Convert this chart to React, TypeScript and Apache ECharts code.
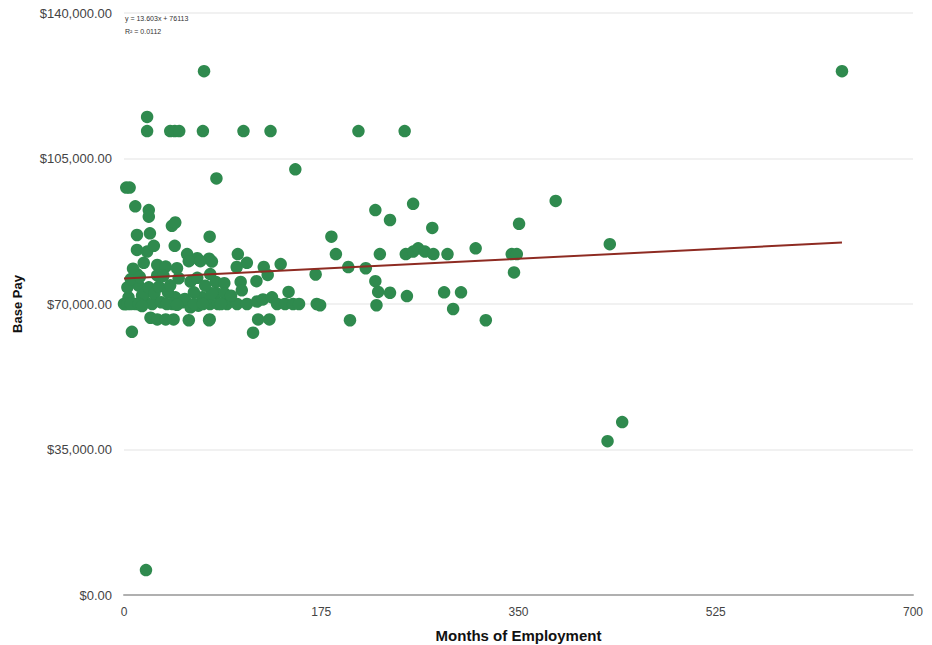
import React, { useEffect, useRef } from "react";
import * as echarts from "echarts";

// Months of employment and base pay for each employee
const months = [
  71, 637, 20.5, 20.5, 41, 45, 49, 70, 106, 130, 208, 249,
  152, 82, 2, 5, 383, 10, 22, 22, 42.5, 45.5, 11.5, 23, 76,
  11.5, 20.5, 26.5, 45, 56, 65, 75.5, 101, 109, 100, 124, 139, 127.5,
  76.5, 170, 117.5, 81.5, 89, 103.5, 104.5, 146, 82, 89,
  76.3, 83.4, 91.4, 100.3, 109.1, 118, 123.3, 131.3, 135.8, 142.9, 150, 155.3,
  171, 76, 119, 129, 114.5,
  17.5, 29.5, 37, 47, 57.5, 67.7, 78,
  11.5, 13, 59, 48.5, 29.5,
  1, 10, 19, 25, 4, 19,
  45.5, 51.5, 59, 69.5, 78, 66,
  23.5, 29.5, 37, 44, 57.5, 75.5, 7,
  3, 6, 8, 14, 16, 22, 27, 31, 35, 39, 33, 41, 43, 54, 62, 65, 72, 86, 95,
  0, 3, 6, 13, 16, 38, 47, 62, 70,
  184, 188, 223, 236, 256.5, 273.5, 227, 250, 256.5, 261, 267, 274.5, 287, 312,
  344, 348.5, 350.5, 346, 199, 214.5, 223, 225.5, 236, 251, 284, 299,
  174, 224, 292, 200.5, 321, 431, 442, 429, 19.5,
];
const basePay = [
  126000, 126000, 115000, 111600, 111600, 111600, 111600, 111600, 111600, 111600, 111600, 111600,
  102400, 100200, 98000, 98000, 94800, 93500, 92600, 91000, 88800, 89600, 86600, 87000, 86200,
  83000, 82600, 84000, 84000, 82000, 81000, 80900, 82000, 79900, 78900, 78900, 79600, 77000,
  77200, 77100, 75500, 75300, 75000, 75300, 73300, 72900, 72600, 72600,
  70000, 70000, 70000, 70000, 70000, 70600, 71100, 71600, 70000, 70000, 70000, 70000,
  70000, 66300, 66300, 66300, 63100,
  79900, 79400, 79000, 78600, 80300, 80300, 80200,
  77200, 74400, 75400, 76200, 76900,
  70000, 70000, 70400, 70000, 71600, 72600,
  71600, 70400, 69200, 71600, 72600, 69600,
  66700, 66300, 66300, 66300, 66100, 66100, 63300,
  74000, 76000, 78500, 76500, 72000, 74000, 72500, 74200, 76800, 72800, 70400, 74500, 70000, 71200, 72800, 76300, 74400, 70000, 72000,
  70000, 70000, 70000, 70000, 69500, 70000, 69800, 70000, 70000,
  86200, 82000, 92600, 90200, 94100, 88300, 82000, 82000, 82600, 83400, 82600, 82000, 82000, 83400,
  82000, 82000, 89300, 77600, 78900, 78600, 75500, 72900, 72700, 71900, 72800, 72800,
  69700, 69700, 68800, 66100, 66100, 84400, 41600, 37000, 6000,
];

// Linear trendline shown on the chart
const slope = 13.603;
const intercept = 76113;
const equationText = "y = 13.603x + 76113";
const r2Text = "R² = 0.0112";

// Axis ticks
const xTicks = { min: 0, max: 700, interval: 175 };
const yTicks = { min: 0, max: 140000, interval: 35000 };

export default function App() {
  const ref = useRef<HTMLDivElement>(null);
  useEffect(() => {
    if (!ref.current) return;
    const chart = echarts.init(ref.current, null, { renderer: "svg" });
    const points = months.map((m, i) => [m, basePay[i]]);
    const xMin = Math.min(...months);
    const xMax = Math.max(...months);
    const trend = [
      [xMin, intercept + slope * xMin],
      [xMax, intercept + slope * xMax],
    ];
    const font = "'Liberation Sans', Arial, Helvetica, sans-serif";
    chart.setOption({
      animation: false,
      backgroundColor: "#ffffff",
      textStyle: { fontFamily: font },
      grid: {
        left: 124,
        right: 19,
        top: 13,
        bottom: 50,
        containLabel: false,
        outerBoundsMode: "none",
      },
      xAxis: {
        type: "value",
        ...xTicks,
        name: "Months of Employment",
        nameLocation: "middle",
        nameGap: 33,
        nameTextStyle: { fontSize: 15, fontWeight: "bold", color: "#111", fontFamily: font },
        axisLine: { show: true, lineStyle: { color: "#b0b0b0", width: 2 } },
        axisTick: { show: false },
        splitLine: { show: false },
        axisLabel: { color: "#444", fontSize: 12, margin: 11, fontFamily: font },
      },
      yAxis: {
        type: "value",
        ...yTicks,
        name: "Base Pay",
        nameLocation: "middle",
        nameGap: 100,
        nameTextStyle: { fontSize: 13, fontWeight: "bold", color: "#111", fontFamily: font },
        axisLine: { show: false },
        axisTick: { show: false },
        splitLine: { show: true, lineStyle: { color: "#ececec", width: 1.5 } },
        axisLabel: {
          color: "#444",
          fontSize: 13,
          margin: 12,
          fontFamily: font,
          formatter: (v: number) =>
            "$" + v.toLocaleString("en-US", { minimumFractionDigits: 2, maximumFractionDigits: 2 }),
        },
      },
      series: [
        {
          type: "scatter",
          data: points,
          symbolSize: 12.5,
          itemStyle: { color: "#2f8a4e", opacity: 1 },
          z: 2,
        },
        {
          type: "line",
          data: trend,
          symbol: "none",
          lineStyle: { color: "#8e2b22", width: 2 },
          z: 3,
        },
      ],
      graphic: [
        {
          type: "text",
          left: 125,
          top: 15,
          style: { text: equationText, fontSize: 7, fill: "#333", fontFamily: font },
        },
        {
          type: "text",
          left: 125,
          top: 28,
          style: { text: r2Text, fontSize: 7, fill: "#333", fontFamily: font },
        },
      ],
    });
    return () => chart.dispose();
  }, []);
  return (
    <div
      ref={ref}
      style={{ position: "fixed", left: 0, top: 0, width: 932, height: 645 }}
    />
  );
}
